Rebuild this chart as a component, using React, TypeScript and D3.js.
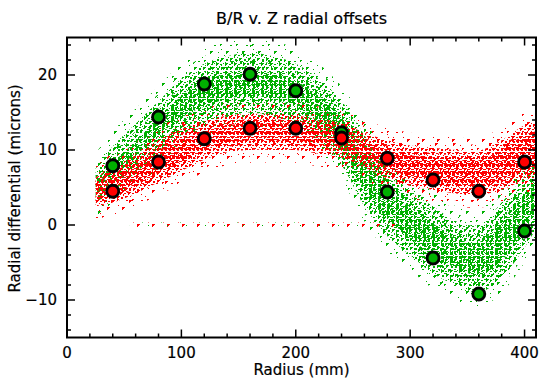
import React from "react"
import * as d3 from "d3"

// big markers: binned means
const markerRadius = [40, 80, 120, 160, 200, 240, 280, 320, 360, 400]
const greenMeans = [7.9, 14.4, 18.8, 20.1, 17.9, 12.3, 4.4, -4.4, -9.2, -0.8]
const redMeans = [4.5, 8.4, 11.5, 12.9, 12.9, 11.6, 8.9, 6.0, 4.5, 8.4]

// scatter clouds, read as envelopes of the dense part
const cloudRadius = [25, 40, 60, 80, 100, 120, 140, 160, 180, 200, 220, 240, 260, 280, 300, 320, 340, 360, 380, 400, 410]
const greenLow = [3.5, 5, 7.5, 10, 12.5, 14, 15, 15.5, 15, 14, 12, 8.5, 3, -1, -3.5, -6, -7.5, -8.5, -6.5, -2.5, 0]
const greenHigh = [7, 10, 13, 16, 19, 21, 22, 22.5, 22, 21, 19, 16, 11.5, 7, 4, 2, 0, -0.5, 2.5, 6, 8]
const redLow = [2.8, 3.3, 4.5, 6, 7.5, 9, 10, 10.3, 10.3, 10.3, 9.8, 9.3, 8, 6.5, 5.5, 5, 4.5, 4.3, 5, 6.3, 6.5]
const redHigh = [6, 7.5, 9, 11, 12.5, 13.5, 14.3, 14.5, 14.5, 14.3, 13.8, 13.3, 12, 11, 10.3, 10, 9.7, 9.6, 11, 13, 13.5]

// stray row of points near zero
const strayRadius = [55, 290]
const strayLow = [-0.35, -0.35]
const strayHigh = [0.35, 0.35]

const radiusTicks = [0, 100, 200, 300, 400]
const offsetTicks = [-10, 0, 10, 20]

const GREEN = "#00b000"
const RED = "#ff0000"

const W = 560
const H = 382
const left = 67
const right = 536
const top = 37.5
const bottom = 337.5

export default function App() {
    const x = d3.scaleLinear().domain([0, 410]).range([left, right])
    const y = d3.scaleLinear().domain([-15, 25]).range([bottom, top])

    const band = (lo: number[], hi: number[], pad: number, xs = cloudRadius) =>
        d3
            .area<number>()
            .x((d, i) => x(xs[i]))
            .y0((d, i) => y(lo[i] - pad))
            .y1((d, i) => y(hi[i] + pad))
            .curve(d3.curveCatmullRom)(lo) || ""

    const minorX = d3.range(0, 411, 20)
    const minorY = d3.range(-14, 25, 2)
    const font = "DejaVu Sans, sans-serif"

    // textures of tiny IDL-like triangles for the point clouds
    const core = "M0 0h3l-3 3z M3 1h3v1h-3z M4 3h3l-3 3z M0 4h3v2h-3z M6 0h1v1h-1z M2 3h1v1h-1z M1 6h2v1h-2z M5 6h2v1h-2z"
    const dense = "M0 0h3l-3 3z M4 1h2v1h-2z M5 4h3l-3 3z M1 5h2v2h-2z M7 0h1v1h-1z M3 3h1v1h-1z M0 8h1v1h-1z"
    const dense2 = "M2 2h3l-3 3z M9 6h2v1h-2z M6 9h3l-3 3z M11 1h1v2h-1z M0 11h2v1h-2z M4 6h2v1h-2z M8 2h1v1h-1z"
    const sparse = "M2 3h3l-3 3z M10 9h1v1h-1z M13 1h1v1h-1z M6 13h2v1h-2z M12 12h2l-2 2z"
    const sparse2 = "M3 10h3l-3 3z M15 4h1v1h-1z M9 1h1v1h-1z"

    const patterns: [string, number, number, string, string][] = [
        ["gC", 9, 8, core, GREEN],
        ["gD", 9, 9, dense, GREEN],
        ["gD2", 13, 13, dense2, GREEN],
        ["gS", 16, 16, sparse, GREEN],
        ["gS2", 19, 17, sparse2, GREEN],
        ["rC", 8, 8, core, RED],
        ["rD", 8, 8, dense, RED],
        ["rD2", 12, 13, dense2, RED],
        ["rS", 15, 17, sparse, RED],
        ["rS2", 18, 19, sparse2, RED],
    ]

    return (
        <svg width={W} height={H} style={{ position: "absolute", left: 0, top: 0, background: "#fff" }}>
            <defs>
                {patterns.map(([id, pw, ph, d, c]) => (
                    <pattern key={id} id={id} width={pw} height={ph} patternUnits="userSpaceOnUse">
                        <path d={d} fill={c} shapeRendering="crispEdges" />
                    </pattern>
                ))}
                <clipPath id="plotClip">
                    <rect x={left} y={top} width={right - left} height={bottom - top} />
                </clipPath>
            </defs>

            <g clipPath="url(#plotClip)">
                {/* green cloud */}
                <path d={band(greenLow, greenHigh, 2.5)} fill="url(#gS)" />
                <path d={band(greenLow, greenHigh, 1.5)} fill="url(#gS2)" />
                <path d={band(greenLow, greenHigh, 0.5)} fill="url(#gD)" />
                <path d={band(greenLow, greenHigh, -0.5)} fill="url(#gD2)" />
                <path d={band(greenLow, greenHigh, -1.8)} fill="url(#gC)" />
                {/* red cloud */}
                <path d={band(redLow, redHigh, 2)} fill="url(#rS)" />
                <path d={band(redLow, redHigh, 1.2)} fill="url(#rS2)" />
                <path d={band(redLow, redHigh, 0.3)} fill="url(#rD)" />
                <path d={band(redLow, redHigh, -0.4)} fill="url(#rD2)" />
                <path d={band(redLow, redHigh, -1)} fill="url(#rC)" />
                {/* stray row near zero */}
                <path d={band(strayLow, strayHigh, 0, strayRadius)} fill="url(#rS)" />
                <path d={band(strayLow, strayHigh, 0, strayRadius)} fill="url(#gS2)" />
            </g>

            {markerRadius.map((r, i) => (
                <circle key={"g" + r} cx={x(r)} cy={y(greenMeans[i])} r={6} fill={GREEN} stroke="#000" strokeWidth={2.8} />
            ))}
            {markerRadius.map((r, i) => (
                <circle key={"r" + r} cx={x(r)} cy={y(redMeans[i])} r={6} fill={RED} stroke="#000" strokeWidth={2.8} />
            ))}

            {/* axes box and ticks */}
            <rect x={left} y={top} width={right - left} height={bottom - top} fill="none" stroke="#000" strokeWidth={2} />
            <g stroke="#000" strokeWidth={1.5}>
                {minorX.map(v => {
                    const len = v % 100 === 0 ? 8 : 4
                    return (
                        <g key={"xt" + v}>
                            <line x1={x(v)} x2={x(v)} y1={bottom} y2={bottom - len} />
                            <line x1={x(v)} x2={x(v)} y1={top} y2={top + len} />
                        </g>
                    )
                })}
                {minorY.map(v => {
                    const len = v % 10 === 0 ? 8 : 4
                    return (
                        <g key={"yt" + v}>
                            <line x1={left} x2={left + len} y1={y(v)} y2={y(v)} />
                            <line x1={right} x2={right - len} y1={y(v)} y2={y(v)} />
                        </g>
                    )
                })}
            </g>

            <g fontFamily={font} fontSize={15} fill="#000" stroke="#000" strokeWidth={0.2}>
                {radiusTicks.map(v => (
                    <text key={"xl" + v} x={x(v)} y={358} textAnchor="middle">{v}</text>
                ))}
                {offsetTicks.map(v => (
                    <text key={"yl" + v} x={57} y={y(v)} dy="0.35em" textAnchor="end">{v === -10 ? "\u221210" : v}</text>
                ))}
                <text x={(left + right) / 2} y={375} textAnchor="middle">Radius (mm)</text>
                <text transform={`translate(20,${(top + bottom) / 2 + 1}) rotate(-90)`} textAnchor="middle">Radial differential (microns)</text>
                <text x={(left + right) / 2} y={24} textAnchor="middle" fontSize={16}>B/R v. Z radial offsets</text>
            </g>
        </svg>
    )
}
